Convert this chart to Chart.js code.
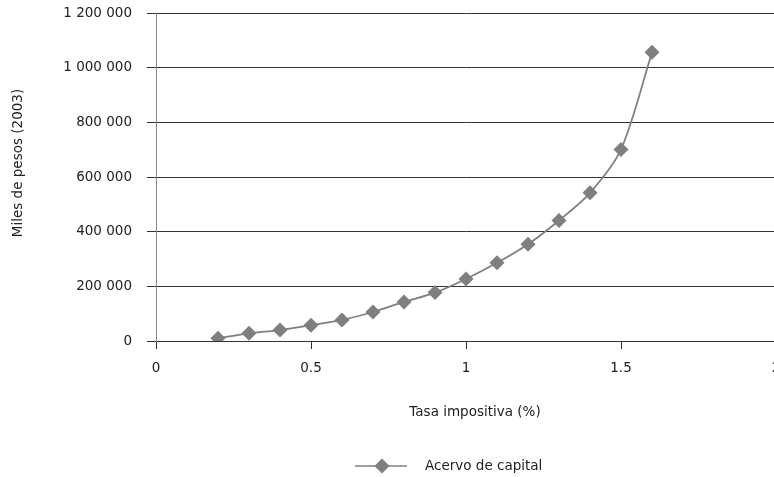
<!DOCTYPE html>
<html>
<head>
<meta charset="utf-8">
<script src="https://cdn.jsdelivr.net/npm/chart.js@4/dist/chart.umd.min.js"></script>
<style>
  html, body { margin: 0; padding: 0; background: #ffffff; overflow: hidden; }
  #wrap { position: relative; width: 790px; height: 477px; }
</style>
</head>
<body>
<div id="wrap"><canvas id="c"></canvas></div>
<script>
// Tasa impositiva (%) y acervo de capital (miles de pesos de 2003)
const tasas = [0.2, 0.3, 0.4, 0.5, 0.6, 0.7, 0.8, 0.9, 1.0, 1.1, 1.2, 1.3, 1.4, 1.5, 1.6];
const acervo = [10000, 28000, 40000, 58000, 77000, 106000, 143000, 177000, 227000,
                286000, 354000, 441000, 542000, 701000, 1056000];
const xTicks = [0, 0.5, 1, 1.5, 2];
const yTicks = [0, 200000, 400000, 600000, 800000, 1000000, 1200000];

const serieNombre = 'Acervo de capital';
const tituloX = 'Tasa impositiva (%)';
const tituloY = 'Miles de pesos (2003)';

const FONT = '"DejaVu Sans", sans-serif';
const FONT_SIZE = 13.5;
const TEXT = '#222222';
const GRAY = '#7f7f7f';

function miles(v) {
  return String(Math.round(v)).replace(/\B(?=(\d{3})+(?!\d))/g, ' ');
}

// Axis titles and legend drawn on the canvas
const extras = {
  id: 'extras',
  afterDraw(chart) {
    const ctx = chart.ctx;
    ctx.save();
    ctx.font = FONT_SIZE + 'px ' + FONT;
    ctx.fillStyle = TEXT;
    ctx.textBaseline = 'middle';

    // x title
    ctx.textAlign = 'center';
    ctx.fillText(tituloX, 475, 412);

    // y title
    ctx.save();
    ctx.translate(18, 163);
    ctx.rotate(-Math.PI / 2);
    ctx.fillText(tituloY, 0, 0);
    ctx.restore();

    // legend: line + diamond + label
    const ly = 466;
    ctx.strokeStyle = GRAY;
    ctx.lineWidth = 1.5;
    ctx.beginPath();
    ctx.moveTo(355, ly);
    ctx.lineTo(407, ly);
    ctx.stroke();
    const r = 7.5, cx = 382;
    ctx.fillStyle = GRAY;
    ctx.beginPath();
    ctx.moveTo(cx, ly - r);
    ctx.lineTo(cx + r, ly);
    ctx.lineTo(cx, ly + r);
    ctx.lineTo(cx - r, ly);
    ctx.closePath();
    ctx.fill();
    ctx.fillStyle = TEXT;
    ctx.textAlign = 'left';
    ctx.fillText(serieNombre, 425, ly);
    ctx.restore();
  }
};

new Chart(document.getElementById('c'), {
  type: 'scatter',
  data: {
    datasets: [{
      label: serieNombre,
      data: tasas.map((t, i) => ({ x: t, y: acervo[i] })),
      showLine: true,
      borderColor: GRAY,
      borderWidth: 1.75,
      backgroundColor: GRAY,
      pointStyle: 'rectRot',
      pointRadius: 7.5,
      pointHoverRadius: 7.5,
      pointBorderWidth: 0,
      tension: 0.3
    }]
  },
  options: {
    responsive: true,
    maintainAspectRatio: false,
    animation: false,
    layout: { padding: { left: 0, top: 13, right: 14, bottom: 0 } },
    plugins: {
      legend: { display: false },
      tooltip: { enabled: false }
    },
    scales: {
      x: {
        type: 'linear',
        min: 0,
        max: 2,
        afterBuildTicks(scale) { scale.ticks = xTicks.map(v => ({ value: v })); },
        afterFit(scale) {
          scale.height = 477 - 341;
          scale.paddingLeft = 0;
          scale.paddingRight = 0;
        },
        ticks: {
          color: TEXT,
          padding: 11,
          maxRotation: 0,
          font: { family: FONT, size: FONT_SIZE },
          callback: v => String(v)
        },
        grid: {
          drawOnChartArea: false,
          drawTicks: true,
          tickLength: 8,
          color: '#333333',
          lineWidth: 1
        },
        border: { display: true, color: '#333333', width: 1 }
      },
      y: {
        type: 'linear',
        min: 0,
        max: 1200000,
        afterBuildTicks(scale) { scale.ticks = yTicks.map(v => ({ value: v })); },
        afterFit(scale) {
          scale.width = 156;
          scale.paddingTop = 0;
          scale.paddingBottom = 0;
        },
        ticks: {
          color: TEXT,
          padding: 15,
          font: { family: FONT, size: FONT_SIZE },
          callback: v => miles(v)
        },
        grid: {
          color: '#333333',
          lineWidth: 1,
          tickLength: 9
        },
        border: { display: true, color: '#888888', width: 1 }
      }
    }
  },
  plugins: [extras]
});
</script>
</body>
</html>
